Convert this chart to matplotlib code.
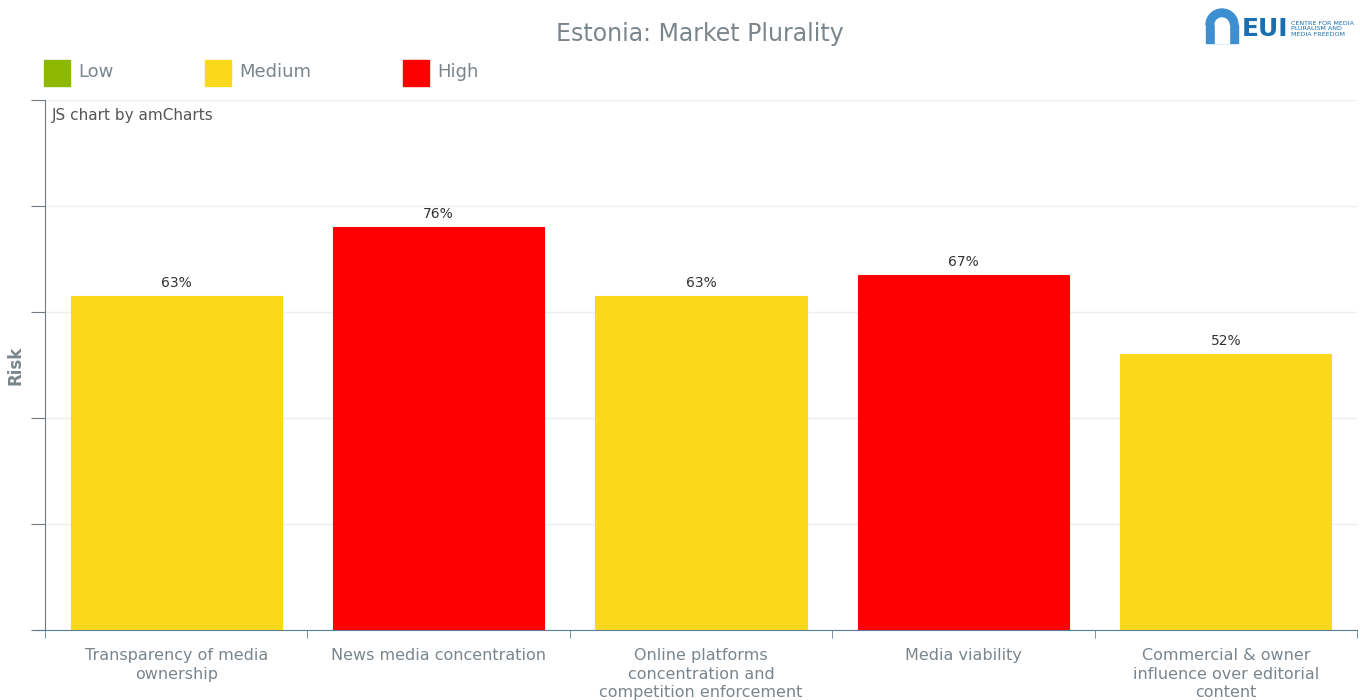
import numpy as np
import matplotlib.pyplot as plt
from matplotlib.patches import Rectangle, Wedge

plt.rcParams['font.family'] = ['DejaVu Sans']

categories = ['Transparency of media\nownership', 'News media concentration',
              'Online platforms\nconcentration and\ncompetition enforcement',
              'Media viability',
              'Commercial & owner\ninfluence over editorial\ncontent']
values = [63, 76, 63, 67, 52]
levels = ['Medium', 'High', 'Medium', 'High', 'Medium']
level_colors = {'Low': '#8cb800', 'Medium': '#fad91c', 'High': '#ff0000'}
legend_items = ['Low', 'Medium', 'High']

W, H = 1360, 700
fig = plt.figure(figsize=(W / 100, H / 100), dpi=100)
ax = fig.add_axes([45 / W, 70 / H, (1357 - 45) / W, 530 / H])

text_col = '#7a858c'
x = np.arange(len(values))
bars = ax.bar(x, values, width=0.805,
              color=[level_colors[l] for l in levels],
              edgecolor=[level_colors[l] for l in levels], linewidth=0.8, zorder=2)
for xi, v in zip(x, values):
    ax.text(xi, v + 1.2, f'{v}%', ha='center', va='bottom', fontsize=10, color='#333333')

ax.set_xlim(-0.5, len(values) - 0.5)
ax.set_ylim(0, 100)
ax.set_yticks(np.arange(0, 101, 20))
ax.set_yticklabels([])
ax.yaxis.grid(True, color='#eeeeee', linewidth=1, zorder=0)
ax.set_xticks(x)
ax.set_xticklabels(categories, fontsize=11.5, color=text_col, linespacing=1.3)
ax.set_xticks(np.arange(-0.5, len(values), 1), minor=True)
ax.tick_params(axis='x', which='major', length=0, pad=13)
ax.tick_params(axis='x', which='minor', length=6, color='#5b7e96', direction='out')
ax.tick_params(axis='y', length=10, color='#6f7a82', direction='out')
for s in ['top', 'right']:
    ax.spines[s].set_visible(False)
ax.spines['left'].set_color('#6f7a82')
ax.spines['bottom'].set_color('#5b7e96')
ax.spines['bottom'].set_bounds(-0.5 - 10 / 262.4, len(values) - 0.5)
ax.set_ylabel('Risk', fontsize=12, fontweight='bold', color=text_col)
ax.yaxis.set_label_coords(-20 / 1312, 0.5)
ax.text(0.005, 0.985, 'JS chart by amCharts', transform=ax.transAxes,
        fontsize=11, color='#555555', va='top', ha='left')

fig.text(700 / W, 1 - 34 / H, 'Estonia: Market Plurality', ha='center', va='center',
         fontsize=17, color=text_col)

# legend
leg_x = [44, 205, 403]
for lx, name in zip(leg_x, legend_items):
    fig.patches.append(Rectangle((lx / W, 1 - 86 / H), 26 / W, 26 / H,
                                 transform=fig.transFigure, color=level_colors[name]))
    fig.text((lx + 34) / W, 1 - 72 / H, name, ha='left', va='center', fontsize=13, color=text_col)

# logo
logo_ax = fig.add_axes([1200 / W, 1 - 50 / H, 160 / W, 45 / H])
logo_ax.set_xlim(0, 160)
logo_ax.set_ylim(0, 45)
logo_ax.axis('off')
logo_ax.add_patch(Rectangle((6, 7), 32, 18, color='#3d8fd1'))
logo_ax.add_patch(Wedge((22, 25), 16, 0, 180, color='#3d8fd1'))
logo_ax.add_patch(Rectangle((15, 7), 14, 18, color='white'))
logo_ax.add_patch(Wedge((22, 25), 7, 0, 180, color='white'))
logo_ax.text(42, 21, 'EUI', ha='left', va='center', fontsize=18,
             fontweight='bold', color='#1a6fb0')
logo_ax.text(91, 21, 'CENTRE FOR MEDIA\nPLURALISM AND\nMEDIA FREEDOM',
             ha='left', va='center', fontsize=4.6, color='#1a6fb0', linespacing=1.05)

fig.savefig('out.png', dpi=100)
